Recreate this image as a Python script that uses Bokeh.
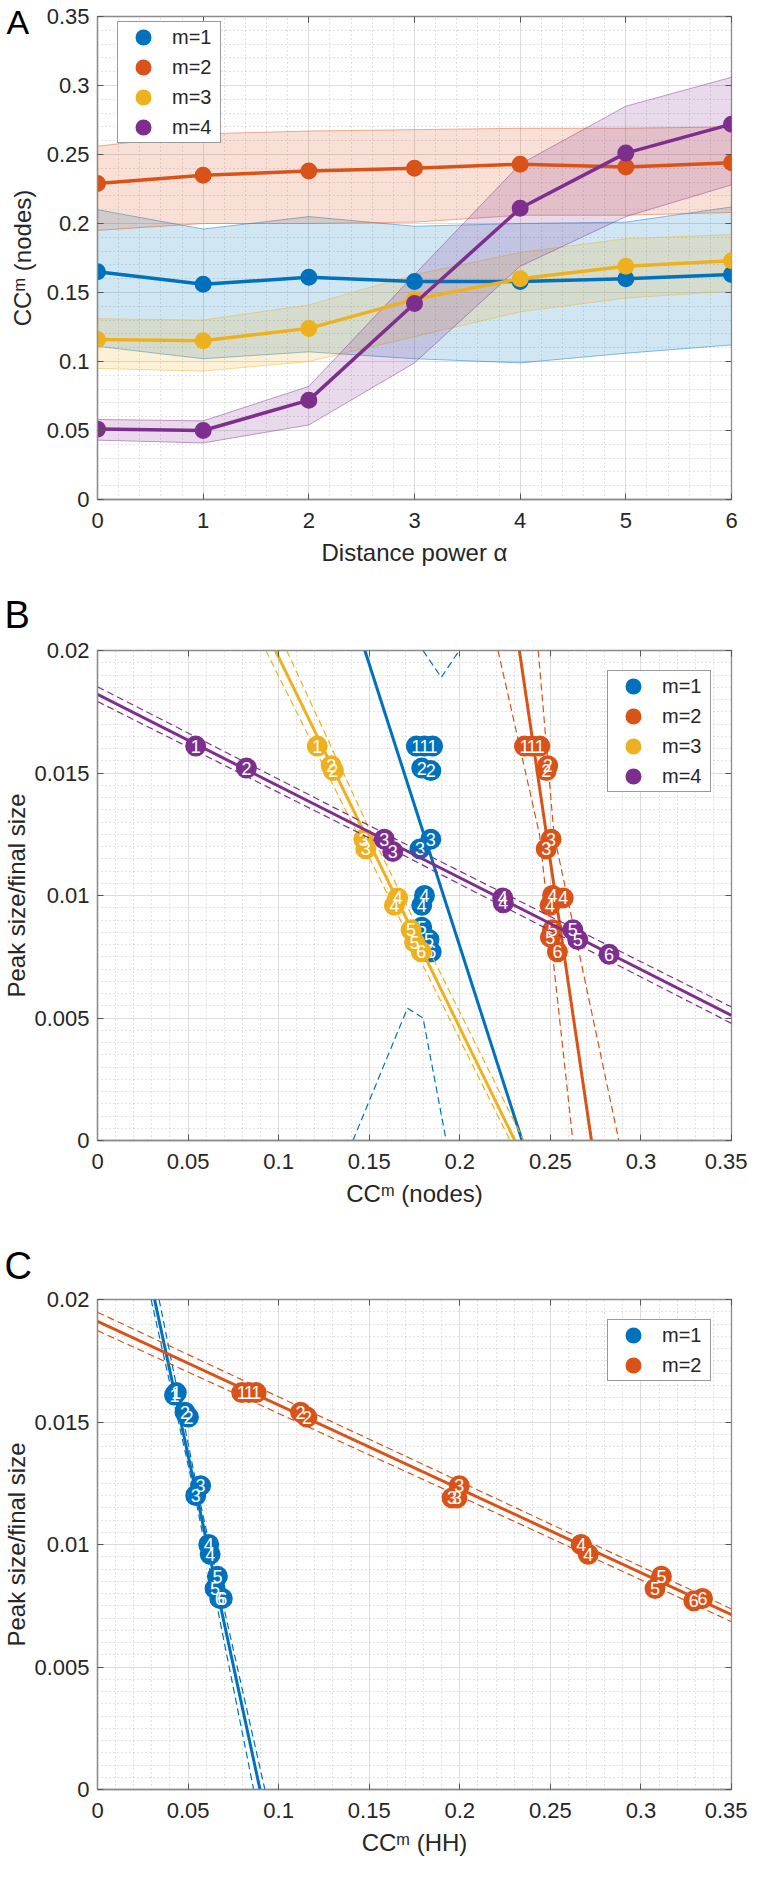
import numpy as np
from bokeh.plotting import figure
from bokeh.models import Range1d, LinearAxis, Title, FixedTicker, CustomJSTickFormatter
from bokeh.layouts import column
from bokeh.core.properties import value
from bokeh.embed import file_html
from bokeh.resources import INLINE

FONT = "Liberation Sans"
COLORS = ["#0072BD", "#D95319", "#EDB120", "#7E2F8E"]
AXC = "#8c8c8c"
TXT = "#262626"

# ---------------- Panel A data ----------------
alpha = [0, 1, 2, 3, 4, 5, 6]
a_m1 = [0.165, 0.156, 0.161, 0.158, 0.158, 0.160, 0.163]
a_m1_lo = [0.111, 0.102, 0.107, 0.102, 0.099, 0.106, 0.112]
a_m1_hi = [0.210, 0.196, 0.205, 0.198, 0.200, 0.201, 0.212]
a_m2 = [0.229, 0.235, 0.238, 0.240, 0.243, 0.241, 0.244]
a_m2_lo = [0.195, 0.200, 0.200, 0.201, 0.206, 0.206, 0.208]
a_m2_hi = [0.256, 0.265, 0.267, 0.268, 0.269, 0.269, 0.270]
a_m3 = [0.116, 0.115, 0.124, 0.145, 0.160, 0.169, 0.173]
a_m3_lo = [0.095, 0.093, 0.100, 0.118, 0.136, 0.146, 0.151]
a_m3_hi = [0.131, 0.130, 0.141, 0.163, 0.179, 0.189, 0.192]
a_m4 = [0.051, 0.050, 0.072, 0.142, 0.211, 0.251, 0.272]
a_m4_lo = [0.043, 0.041, 0.054, 0.099, 0.169, 0.205, 0.228]
a_m4_hi = [0.058, 0.057, 0.082, 0.163, 0.243, 0.285, 0.306]
a_xticks = [0, 1, 2, 3, 4, 5, 6]
a_yticks = [0, 0.05, 0.1, 0.15, 0.2, 0.25, 0.3, 0.35]

# ---------------- Panel B data ----------------
b1_x = [0.176, 0.1805, 0.185, 0.179, 0.184, 0.184, 0.178, 0.1805, 0.179, 0.179, 0.183, 0.1842, 0.1825]
b1_y = [0.0161, 0.0161, 0.0161, 0.0152, 0.0151, 0.0123, 0.0119, 0.0100, 0.0096, 0.0087, 0.0082, 0.0077, 0.0077]
b1_n = [1, 1, 1, 2, 2, 3, 3, 4, 4, 5, 5, 6, 6]
b2_x = [0.2357, 0.2397, 0.2442, 0.2485, 0.2477, 0.2504, 0.2477, 0.2512, 0.2571, 0.2498, 0.2512, 0.2500, 0.2539]
b2_y = [0.0161, 0.0161, 0.0161, 0.0153, 0.0151, 0.0123, 0.0119, 0.0100, 0.0099, 0.0096, 0.0086, 0.0083, 0.0077]
b2_n = [1, 1, 1, 2, 2, 3, 3, 4, 4, 4, 5, 5, 6]
b3_x = [0.1213, 0.1290, 0.1302, 0.1470, 0.1481, 0.1657, 0.1639, 0.1731, 0.1750, 0.1787]
b3_y = [0.0161, 0.0153, 0.0151, 0.0123, 0.0119, 0.0099, 0.0096, 0.0086, 0.0081, 0.0077]
b3_n = [1, 2, 2, 3, 3, 4, 4, 5, 5, 6]
b4_x = [0.0542, 0.0822, 0.1583, 0.1630, 0.2237, 0.2240, 0.2624, 0.2651, 0.2824]
b4_y = [0.0161, 0.0152, 0.0123, 0.0118, 0.0099, 0.0097, 0.0086, 0.0082, 0.0076]
b4_n = [1, 2, 3, 3, 4, 4, 5, 5, 6]

# fitted lines (end points) and dashed confidence bounds
b1_fit_x = [0.1476, 0.2344]; b1_fit_y = [0.02, 0.0]
b1_up_x = [0.1797, 0.1898, 0.1997]; b1_up_y = [0.02, 0.0189, 0.02]
b1_lo_x = [0.141, 0.1711, 0.1797, 0.1925]; b1_lo_y = [0.0, 0.0054, 0.0050, 0.0]
b2_fit_x = [0.2329, 0.2727]; b2_fit_y = [0.02, 0.0]
b2_up_x = [0.2433, 0.2520, 0.2878]; b2_up_y = [0.02, 0.0125, 0.0]
b2_lo_x = [0.2211, 0.2440, 0.2624]; b2_lo_y = [0.02, 0.0125, 0.0]
b3_fit_x = [0.0982, 0.2304]; b3_fit_y = [0.02, 0.0]
b3_up_x = [0.1044, 0.1545, 0.2353]; b3_up_y = [0.02, 0.012, 0.0]
b3_lo_x = [0.0929, 0.1470, 0.2278]; b3_lo_y = [0.02, 0.012, 0.0]
b4_fit_x = [0.0, 0.35]; b4_fit_y = [0.01821, 0.00511]
b4_up_x = [0.0, 0.17, 0.35]; b4_up_y = [0.01852, 0.0121, 0.00545]
b4_lo_x = [0.0, 0.17, 0.35]; b4_lo_y = [0.01792, 0.0116, 0.00478]

# ---------------- Panel C data ----------------
c1_x = [0.0435, 0.0425, 0.0483, 0.0502, 0.0569, 0.0542, 0.0614, 0.0622, 0.0662, 0.0649, 0.0689, 0.0675]
c1_y = [0.0162, 0.0161, 0.0154, 0.0152, 0.0124, 0.0120, 0.0100, 0.0096, 0.0087, 0.0082, 0.0078, 0.0078]
c1_n = [1, 1, 2, 2, 3, 3, 4, 4, 5, 5, 6, 6]
c2_x = [0.0796, 0.0836, 0.0876, 0.1121, 0.1156, 0.1997, 0.1984, 0.1957, 0.2670, 0.2709, 0.3113, 0.3078, 0.3292, 0.3340]
c2_y = [0.0162, 0.0162, 0.0162, 0.0154, 0.0152, 0.0124, 0.0119, 0.0119, 0.0100, 0.0096, 0.0087, 0.0082, 0.0077, 0.0078]
c2_n = [1, 1, 1, 2, 2, 3, 3, 3, 4, 4, 5, 5, 6, 6]
c1_fit_x = [0.0315, 0.0897]; c1_fit_y = [0.02, 0.0]
c1_up_x = [0.0340, 0.0558, 0.0924]; c1_up_y = [0.02, 0.012, 0.0]
c1_lo_x = [0.0296, 0.0538, 0.0862]; c1_lo_y = [0.02, 0.012, 0.0]
c2_fit_x = [0.0, 0.35]; c2_fit_y = [0.01911, 0.00714]
c2_up_x = [0.0, 0.2, 0.35]; c2_up_y = [0.01948, 0.01257, 0.00737]
c2_lo_x = [0.0, 0.2, 0.35]; c2_lo_y = [0.01873, 0.01197, 0.00685]

bc_xticks = [0, 0.05, 0.1, 0.15, 0.2, 0.25, 0.3, 0.35]
bc_yticks = [0, 0.005, 0.01, 0.015, 0.02]

FMT = "return String(parseFloat(tick.toFixed(5)));"

FRAME_LEFT = 93
FRAME_W = 638
FIG_W = 747
LEG_ROW = 30


def make_fig(top, frame_h, bottom, xr, yr, xticks, xminor, yticks, yminor, xlabel, ylabel, ylab_standoff):
    p = figure(width=FIG_W, height=top + frame_h + bottom, output_backend="svg", toolbar_location=None,
               x_range=Range1d(*xr), y_range=Range1d(*yr),
               min_border_left=FRAME_LEFT, min_border_right=FIG_W - FRAME_LEFT - FRAME_W,
               min_border_top=top, min_border_bottom=bottom)
    p.background_fill_color = "white"
    p.border_fill_color = "white"
    p.outline_line_color = AXC
    p.outline_line_width = 1.3
    xa = p.below[0]
    ya = p.left[0]
    for ax, t, mn in ((xa, xticks, xminor), (ya, yticks, yminor)):
        ax.ticker = FixedTicker(ticks=t, minor_ticks=mn)
        ax.formatter = CustomJSTickFormatter(code=FMT)
        ax.major_label_text_font = FONT
        ax.major_label_text_font_size = "22px"
        ax.major_label_text_color = TXT
        ax.axis_label_text_font = FONT
        ax.axis_label_text_font_size = "24px"
        ax.axis_label_text_font_style = "normal"
        ax.axis_label_text_color = TXT
        ax.major_tick_in = 6
        ax.major_tick_out = 0
        ax.minor_tick_in = 0
        ax.minor_tick_out = 0
        ax.axis_line_color = AXC
        ax.axis_line_width = 1.3
        ax.major_tick_line_color = "#555555"
    xa.axis_label = xlabel
    ya.axis_label = ylabel
    xa.major_label_standoff = 13
    ya.major_label_standoff = 8
    xa.axis_label_standoff = 8
    ya.axis_label_standoff = ylab_standoff
    p.xgrid.ticker = FixedTicker(ticks=xticks, minor_ticks=xminor)
    p.ygrid.ticker = FixedTicker(ticks=yticks, minor_ticks=yminor)
    for g in (p.xgrid[0], p.ygrid[0]):
        g.grid_line_color = "#dcdcdc"
        g.grid_line_width = 1
        g.minor_grid_line_color = "#c4c4c4"
        g.minor_grid_line_dash = "1 3"
        g.minor_grid_line_width = 1
    # box ticks on top and right
    for loc, t in (("above", xticks), ("right", yticks)):
        ax = LinearAxis(ticker=FixedTicker(ticks=t),
                        formatter=CustomJSTickFormatter(code="return '';"),
                        major_label_text_font_size="1px", major_label_standoff=0,
                        major_tick_in=6, major_tick_out=0, minor_tick_in=0, minor_tick_out=0,
                        axis_line_color=None, major_tick_line_color="#555555")
        p.add_layout(ax, loc)
    return p


def style_legend(p, loc):
    lg = p.legend[0]
    lg.location = loc
    lg.margin = 20
    lg.padding = 0
    lg.spacing = 0
    lg.glyph_width = 50
    lg.glyph_height = LEG_ROW
    lg.label_height = LEG_ROW
    lg.label_standoff = 4
    lg.label_width = 48
    lg.label_text_font = FONT
    lg.label_text_font_size = "20px"
    lg.label_text_color = TXT
    lg.border_line_color = "#333333"
    lg.border_line_width = 1
    lg.background_fill_alpha = 1.0


def panel_title(p, text, offset, standoff, size="38px"):
    t = Title(text=text, align="left", vertical_align="bottom", offset=offset,
              text_font=FONT, text_font_size=size, text_font_style="normal", text_color="black")
    try:
        t.standoff = standoff
    except Exception:
        t.standoff = 0
    p.add_layout(t, "above")


# ---------------- Panel A ----------------
a_xr = (0, 6)
a_yr = (0, 0.35)
a_xminor = np.round(np.arange(0, 6.0001, 0.2), 4).tolist()
a_yminor = np.round(np.arange(0, 0.3501, 0.01), 4).tolist()
A_TOP = 16
A_FRAME_H = 507 - 8 - A_TOP
pA = make_fig(A_TOP, A_FRAME_H, 77, a_xr, a_yr, a_xticks, a_xminor, a_yticks, a_yminor,
              "Distance power \u03b1", "CC\u1d50 (nodes)", 8)
a_series = [(a_m1, a_m1_lo, a_m1_hi), (a_m2, a_m2_lo, a_m2_hi),
            (a_m3, a_m3_lo, a_m3_hi), (a_m4, a_m4_lo, a_m4_hi)]
for i, (mean, lo, hi) in enumerate(a_series):
    c = COLORS[i]
    pA.varea(x=alpha, y1=lo, y2=hi, fill_color=c, fill_alpha=0.18)
    pA.line(alpha, lo, line_color=c, line_alpha=0.45, line_width=1)
    pA.line(alpha, hi, line_color=c, line_alpha=0.45, line_width=1)
for i, (mean, lo, hi) in enumerate(a_series):
    c = COLORS[i]
    pA.line(alpha, mean, line_color=c, line_width=3.5)
    pA.scatter(alpha, mean, size=13, line_width=4, fill_color=c, line_color=c,
               legend_label="m=%d" % (i + 1))
style_legend(pA, "top_left")
pA.legend[0].location = (20, A_FRAME_H - 7 - 4 * LEG_ROW)
panel_title(pA, "A", -91, -48, "34px")

# ---------------- Panel B ----------------
bc_xr = (0, 0.35)
bc_yr = (0, 0.02)
bc_xminor = np.round(np.arange(0, 0.3501, 0.01), 4).tolist()
bc_yminor = np.round(np.arange(0, 0.02001, 0.0005), 5).tolist()
pB = make_fig(74, 490, 77, bc_xr, bc_yr, bc_xticks, bc_xminor, bc_yticks, bc_yminor,
              "CC\u1d50 (nodes)", "Peak size/final size", 1)
b_series = [
    (b1_x, b1_y, b1_n, b1_fit_x, b1_fit_y, b1_up_x, b1_up_y, b1_lo_x, b1_lo_y),
    (b2_x, b2_y, b2_n, b2_fit_x, b2_fit_y, b2_up_x, b2_up_y, b2_lo_x, b2_lo_y),
    (b3_x, b3_y, b3_n, b3_fit_x, b3_fit_y, b3_up_x, b3_up_y, b3_lo_x, b3_lo_y),
    (b4_x, b4_y, b4_n, b4_fit_x, b4_fit_y, b4_up_x, b4_up_y, b4_lo_x, b4_lo_y),
]


def draw_scatter_panel(p, series):
    for i, (xs, ys, ns, fx, fy, ux, uy, lx, ly) in enumerate(series):
        c = COLORS[i]
        p.line(ux, uy, line_color=c, line_width=1.2, line_dash="7 4")
        p.line(lx, ly, line_color=c, line_width=1.2, line_dash="7 4")
        p.line(fx, fy, line_color=c, line_width=3)
        p.scatter(xs, ys, size=17, line_width=4, fill_color=c, line_color=c,
                  legend_label="m=%d" % (i + 1))
        p.text(xs, ys, text=[str(n) for n in ns], text_color="white",
               text_font=value(FONT), text_font_size="18px",
               text_align="center", text_baseline="middle")


draw_scatter_panel(pB, b_series)
style_legend(pB, "top_right")
panel_title(pB, "B", -93, 29)

# ---------------- Panel C ----------------
pC = make_fig(82, 490, 74, bc_xr, bc_yr, bc_xticks, bc_xminor, bc_yticks, bc_yminor,
              "CC\u1d50 (HH)", "Peak size/final size", 1)
c_series = [
    (c1_x, c1_y, c1_n, c1_fit_x, c1_fit_y, c1_up_x, c1_up_y, c1_lo_x, c1_lo_y),
    (c2_x, c2_y, c2_n, c2_fit_x, c2_fit_y, c2_up_x, c2_up_y, c2_lo_x, c2_lo_y),
]
draw_scatter_panel(pC, c_series)
style_legend(pC, "top_right")
panel_title(pC, "C", -93, 26)

layout = column(pA, pB, pC)
open("out.html", "w").write(file_html(layout, INLINE))
